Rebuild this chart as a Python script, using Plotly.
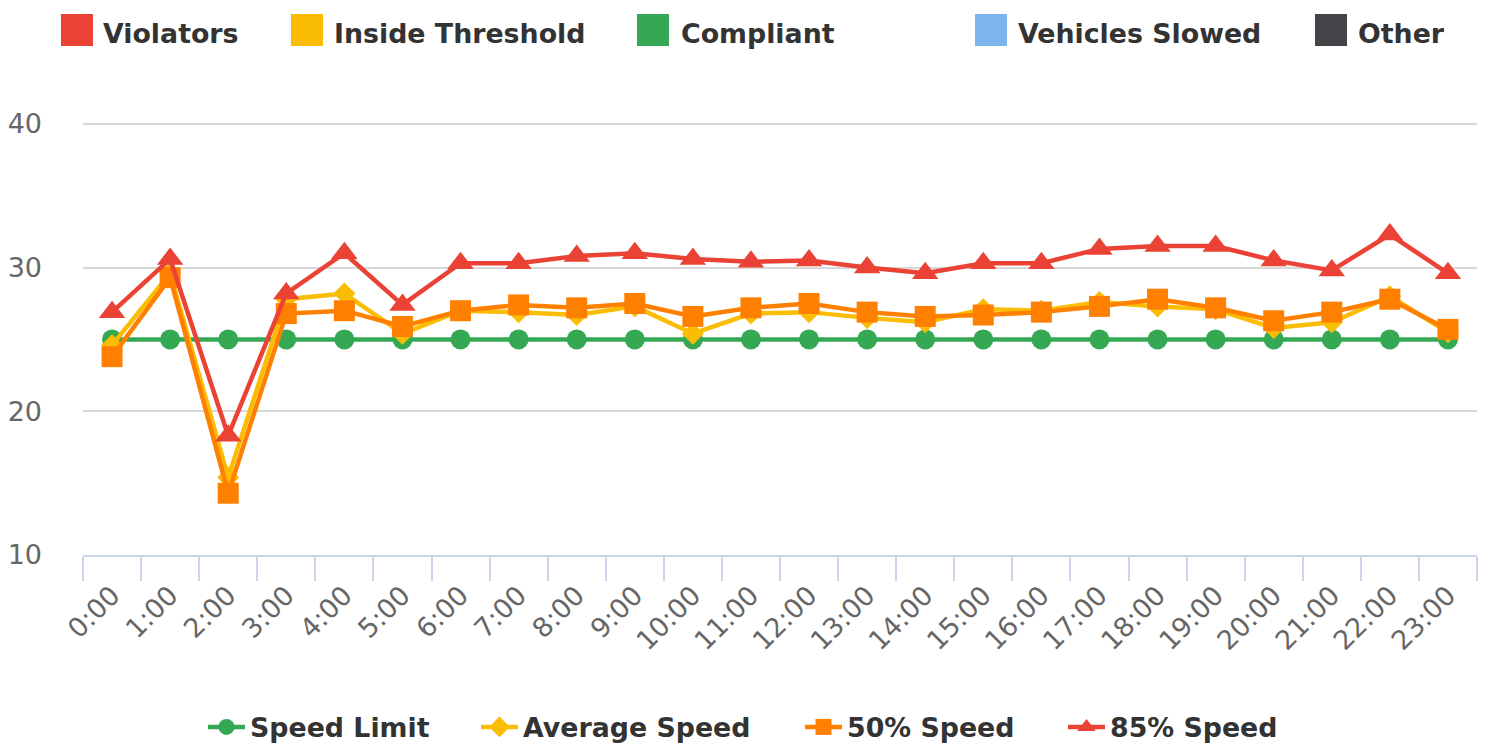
import plotly.graph_objects as go

# ---------------- data ----------------
hours = ["0:00", "1:00", "2:00", "3:00", "4:00", "5:00", "6:00", "7:00", "8:00", "9:00",
         "10:00", "11:00", "12:00", "13:00", "14:00", "15:00", "16:00", "17:00", "18:00",
         "19:00", "20:00", "21:00", "22:00", "23:00"]

speed_limit = [25, 25, 25, 25, 25, 25, 25, 25, 25, 25, 25, 25,
               25, 25, 25, 25, 25, 25, 25, 25, 25, 25, 25, 25]

average_speed = [24.6, 29.6, 15.4, 27.8, 28.2, 25.4, 27.0, 26.9, 26.7, 27.3, 25.4, 26.8,
                 26.9, 26.5, 26.2, 27.1, 27.0, 27.6, 27.3, 27.1, 25.8, 26.2, 28.0, 25.5]

speed_50 = [23.8, 29.3, 14.3, 26.8, 27.0, 25.9, 27.0, 27.4, 27.2, 27.5, 26.6, 27.2,
            27.5, 26.9, 26.6, 26.7, 26.9, 27.3, 27.8, 27.2, 26.3, 26.9, 27.8, 25.7]

speed_85 = [26.9, 30.6, 18.3, 28.2, 31.0, 27.4, 30.3, 30.3, 30.8, 31.0, 30.6, 30.4,
            30.5, 30.0, 29.6, 30.3, 30.3, 31.3, 31.5, 31.5, 30.5, 29.8, 32.3, 29.6]

y_ticks = [10, 20, 30, 40]

top_legend_names = ["Violators", "Inside Threshold", "Compliant", "Vehicles Slowed", "Other"]
top_legend_colors = ["#ea4335", "#fbbc04", "#34a853", "#7cb5ec", "#434348"]

# ---------------- layout geometry (pixels) ----------------
W, H = 1485, 751
PL, PR, PT, PB = 83, 8, 121, 196
plot_w = W - PL - PR
plot_h = H - PT - PB


def px_x(x):
    return (x - PL) / plot_w


def px_y(y):
    return (H - PB - y) / plot_h


FONT = "DejaVu Sans"
FS = 26.8
GREEN, YELLOW, ORANGE, RED = "#34a853", "#fbbc04", "#ff8000", "#ea4335"

fig = go.Figure()

series = [
    ("Speed Limit", speed_limit, GREEN, "circle", 20, "legend"),
    ("Average Speed", average_speed, YELLOW, "diamond", 17, "legend2"),
    ("50% Speed", speed_50, ORANGE, "square", 21, "legend3"),
    ("85% Speed", speed_85, RED, "triangle-up", 23, "legend4"),
]

for name, vals, color, sym, size, leg in series:
    fig.add_trace(go.Scatter(
        x=hours, y=vals, name=name, mode="lines+markers",
        line=dict(color=color, width=4.5),
        marker=dict(color=color, symbol=sym, size=size, line=dict(width=0)),
        legend=leg, cliponaxis=False,
    ))

# bottom legends (one per entry so spacing matches)
leg_x_px = [203, 476, 800, 1063]
leg_common = dict(
    orientation="h", xanchor="left", yanchor="middle", y=px_y(727),
    font=dict(family=FONT, size=FS, color="#333333", weight="bold"),
    bgcolor="rgba(0,0,0,0)", borderwidth=0, itemwidth=37,
    itemclick=False, itemdoubleclick=False,
)
legends = {}
for i, key in enumerate(["legend", "legend2", "legend3", "legend4"]):
    legends[key] = dict(leg_common, x=px_x(leg_x_px[i]))

# top legend drawn as shapes + text
top_sq_x = [61, 291, 637, 975, 1315]
top_tx_x = [101, 332, 679, 1016, 1356]
shapes = []
annotations = []
for name, col, sx, tx in zip(top_legend_names, top_legend_colors, top_sq_x, top_tx_x):
    shapes.append(dict(type="rect", xref="paper", yref="paper",
                       x0=px_x(sx), x1=px_x(sx + 32), y0=px_y(46), y1=px_y(14),
                       fillcolor=col, line=dict(width=0), layer="above"))
    annotations.append(dict(xref="paper", yref="paper", x=px_x(tx), y=px_y(33),
                            xanchor="left", yanchor="middle", showarrow=False,
                            text=name,
                            font=dict(family=FONT, size=FS, color="#333333", weight="bold")))

fig.update_layout(
    width=W, height=H,
    margin=dict(l=PL, r=PR, t=PT, b=PB, pad=0, autoexpand=False),
    paper_bgcolor="white", plot_bgcolor="white",
    showlegend=True,
    shapes=shapes, annotations=annotations,
    font=dict(family=FONT),
    **legends,
)

fig.update_xaxes(
    type="category", range=[-0.5, 23.5],
    tickson="boundaries", ticks="outside", ticklen=24, tickwidth=2, tickcolor="#ccd6eb",
    showline=True, linecolor="#ccd6eb", linewidth=2,
    showgrid=False, zeroline=False, automargin=False,
    tickangle=-45, ticklabelstandoff=12,
    tickfont=dict(family=FONT, size=FS, color="#666666"),
)
fig.update_yaxes(
    range=[10, 40.2], tickvals=y_ticks,
    showgrid=True, gridcolor="#d8d8d8", gridwidth=2,
    zeroline=False, showline=False, ticks="", automargin=False,
    ticklabelstandoff=40,
    tickfont=dict(family=FONT, size=27, color="#666666"),
)

fig.write_html(
    "out.html",
    config={"displayModeBar": False},
    post_script="document.body.style.margin='0';document.body.style.overflow='hidden';",
)
